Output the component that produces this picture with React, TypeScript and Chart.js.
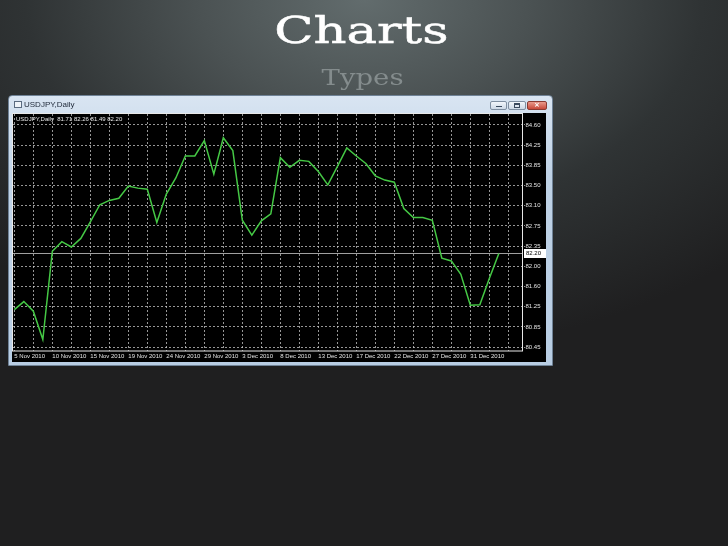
import React, { useEffect, useRef } from 'react';
import { Chart, registerables } from 'chart.js';

Chart.register(...registerables);

const slideTitle = 'Charts';
const slideSubtitle = 'Types';
const symbolName = 'USDJPY,Daily';
const ohlcValues = ['81.71', '82.26', '81.49', '82.20'];

const dateLabels = [
  '5 Nov 2010', '10 Nov 2010', '15 Nov 2010', '19 Nov 2010', '24 Nov 2010',
  '29 Nov 2010', '3 Dec 2010', '8 Dec 2010', '13 Dec 2010', '17 Dec 2010',
  '22 Dec 2010', '27 Dec 2010', '31 Dec 2010',
];

const closes = [
  81.15, 81.30, 81.12, 80.59, 82.24, 82.42, 82.32, 82.48, 82.79, 83.11,
  83.19, 83.23, 83.46, 83.42, 83.40, 82.78, 83.31, 83.61, 84.02, 84.02,
  84.31, 83.68, 84.36, 84.12, 82.82, 82.54, 82.81, 82.94, 83.99, 83.81,
  83.94, 83.92, 83.73, 83.48, 83.82, 84.17, 84.02, 83.88, 83.65, 83.57,
  83.53, 83.04, 82.87, 82.87, 82.82, 82.11, 82.06, 81.81, 81.23, 81.24,
  81.73, 82.20,
];

const yTickLabels = [
  '80.45', '80.85', '81.25', '81.60', '82.00', '82.35',
  '82.75', '83.10', '83.50', '83.85', '84.25', '84.60',
];

const barsPerLabel = 4;
const barsPerGrid = 2;

const chartFont = { family: "'Liberation Sans', Arial, sans-serif", size: 6 };
const labelColor = '#e4e4e4';
const gridColor = 'rgba(200,200,200,0.75)';

export default function App() {
  const canvasRef = useRef<HTMLCanvasElement>(null);

  useEffect(() => {
    const canvas = canvasRef.current;
    if (!canvas) return;
    const currentPrice = closes[closes.length - 1];
    const yLo = parseFloat(yTickLabels[0]);
    const yHi = parseFloat(yTickLabels[yTickLabels.length - 1]);
    const yStep = (yHi - yLo) / (yTickLabels.length - 1);

    const pricePlugin = {
      id: 'priceLine',
      beforeDatasetsDraw(chart: any) {
        const { ctx, chartArea, scales } = chart;
        const y = Math.round(scales.y.getPixelForValue(currentPrice)) + 0.5;
        ctx.save();
        ctx.strokeStyle = '#a0a0a0';
        ctx.lineWidth = 1;
        ctx.beginPath();
        ctx.moveTo(chartArea.left, y);
        ctx.lineTo(chartArea.right, y);
        ctx.stroke();
        ctx.restore();
      },
      afterDraw(chart: any) {
        const { ctx, chartArea, scales } = chart;
        const y = Math.round(scales.y.getPixelForValue(currentPrice)) + 0.5;
        ctx.save();
        ctx.strokeStyle = '#e8e8e8';
        ctx.lineWidth = 1;
        ctx.strokeRect(chartArea.left - 0.5, chartArea.top - 0.5, chartArea.right - chartArea.left + 1, chartArea.bottom - chartArea.top + 1);
        ctx.fillStyle = '#ffffff';
        ctx.fillRect(chartArea.right + 2, y - 4.5, 22, 9);
        ctx.fillStyle = '#000000';
        ctx.font = `${chartFont.size}px ${chartFont.family}`;
        ctx.textBaseline = 'middle';
        ctx.textAlign = 'left';
        ctx.fillText(currentPrice.toFixed(2), chartArea.right + 4, y);
        ctx.restore();
      },
    };

    const chart = new Chart(canvas, {
      type: 'line',
      data: {
        datasets: [
          {
            data: closes.map((y, x) => ({ x, y })),
            borderColor: '#45c845',
            borderWidth: 1.5,
            pointRadius: 0,
            tension: 0,
            fill: false,
          },
        ],
      },
      options: {
        animation: false,
        responsive: false,
        layout: { padding: { left: 1, top: 1, right: 0, bottom: 0 } },
        plugins: { legend: { display: false }, tooltip: { enabled: false } },
        scales: {
          x: {
            type: 'linear',
            min: -0.14,
            max: 53.44,
            afterBuildTicks: (s: any) => {
              const t: { value: number }[] = [];
              for (let v = 0; v <= s.max; v += barsPerGrid) t.push({ value: v });
              s.ticks = t;
            },
            afterFit: (s: any) => {
              s.height = 11.5;
              s.paddingLeft = 0;
              s.paddingRight = 0;
            },
            ticks: {
              autoSkip: false,
              maxRotation: 0,
              minRotation: 0,
              align: 'start',
              padding: 2.5,
              color: labelColor,
              font: chartFont,
              callback: (v: any) =>
                v % barsPerLabel === 0 ? dateLabels[v / barsPerLabel] ?? '' : '',
            },
            grid: { color: gridColor, drawTicks: false, tickLength: 0 },
            border: { display: false, dash: [2, 2] },
          },
          y: {
            type: 'linear',
            position: 'right',
            min: 80.386,
            max: 84.805,
            afterBuildTicks: (s: any) => {
              s.ticks = yTickLabels.map((_, i) => ({ value: yLo + i * yStep }));
            },
            afterFit: (s: any) => {
              s.width = 24;
              s.paddingTop = 0;
              s.paddingBottom = 0;
            },
            ticks: {
              autoSkip: false,
              padding: 0.5,
              color: labelColor,
              font: chartFont,
              callback: (_v: any, i: number) => yTickLabels[i],
            },
            grid: { color: gridColor, drawTicks: true, tickLength: 3, tickColor: gridColor, tickBorderDash: [1, 1] },
            border: { display: false, dash: [2, 2] },
          },
        },
      },
      plugins: [pricePlugin],
    } as any);

    return () => chart.destroy();
  }, []);

  const btnBase: React.CSSProperties = {
    position: 'absolute',
    top: 5,
    height: 9,
    borderRadius: 2,
    boxSizing: 'border-box',
    border: '1px solid #7f8fa2',
    background: 'linear-gradient(#f2f6fb, #cdd9e7)',
  };

  return (
    <div
      style={{
        position: 'fixed',
        left: 0,
        top: 0,
        width: 728,
        height: 546,
        overflow: 'hidden',
        background:
          'radial-gradient(ellipse 75% 65% at 50% 0%, #626c6d 0%, #4b5253 30%, #2f3334 62%, #1f1f20 100%)',
      }}
    >
      <div
        style={{
          position: 'absolute',
          left: 0,
          width: 728,
          top: 11,
          textAlign: 'center',
          fontFamily: "'DejaVu Serif', serif",
          fontSize: 38,
          lineHeight: '38px',
          color: '#ffffff',
          WebkitTextStroke: '0.5px #ffffff',
          transform: 'scaleX(1.35)',
          transformOrigin: '360px 0',
          marginLeft: -4,
        }}
      >
        {slideTitle}
      </div>
      <div
        style={{
          position: 'absolute',
          left: 0,
          width: 728,
          top: 67,
          textAlign: 'center',
          fontFamily: "'DejaVu Serif', serif",
          fontSize: 21.5,
          lineHeight: '21.5px',
          color: '#848c8d',
          transform: 'scaleX(1.28)',
          transformOrigin: '362px 0',
          marginLeft: -2,
        }}
      >
        {slideSubtitle}
      </div>

      <div
        style={{
          position: 'absolute',
          left: 8,
          top: 95,
          width: 545,
          height: 271,
          boxSizing: 'border-box',
          border: '1px solid #6f8296',
          borderRadius: '4px 4px 0 0',
          background: 'linear-gradient(#d9e5f2, #bfd2e6 30%, #b8cde3)',
        }}
      >
        <div
          style={{
            position: 'absolute',
            left: 5,
            top: 5,
            width: 8,
            height: 7,
            boxSizing: 'border-box',
            border: '1px solid #5a6b80',
            background: '#eef3f8',
          }}
        />
        <div
          style={{
            position: 'absolute',
            left: 15,
            top: 3,
            fontFamily: "'Liberation Sans', Arial, sans-serif",
            fontSize: 8,
            lineHeight: '12px',
            color: '#1c2636',
          }}
        >
          {symbolName}
        </div>
        <div style={{ ...btnBase, left: 481, width: 17 }}>
          <div style={{ position: 'absolute', left: 5, top: 4, width: 6, height: 1, background: '#3a4a5e' }} />
        </div>
        <div style={{ ...btnBase, left: 499, width: 18 }}>
          <div
            style={{
              position: 'absolute',
              left: 5,
              top: 1,
              width: 6,
              height: 5,
              boxSizing: 'border-box',
              border: '1px solid #3a4a5e',
              borderTopWidth: 2,
            }}
          />
        </div>
        <div
          style={{
            ...btnBase,
            left: 518,
            width: 20,
            border: '1px solid #8a3a32',
            background: 'linear-gradient(#e99a8d, #c8493a)',
            color: '#ffffff',
            fontFamily: "'DejaVu Sans', sans-serif",
            fontSize: 7,
            lineHeight: '7px',
            fontWeight: 'bold',
            textAlign: 'center',
          }}
        >
          ×
        </div>
      </div>

      <div
        style={{
          position: 'absolute',
          left: 12,
          top: 113,
          width: 534,
          height: 249,
          background: '#000000',
        }}
      >
        <canvas ref={canvasRef} width={534} height={249} style={{ display: 'block', width: 534, height: 249 }} />
        <div
          style={{
            position: 'absolute',
            left: 4,
            top: 2,
            fontFamily: "'Liberation Sans', Arial, sans-serif",
            fontSize: 6,
            lineHeight: '8px',
            color: '#e8e8e8',
            whiteSpace: 'pre',
          }}
        >
          {`${symbolName}  ${ohlcValues.join(' ')}`}
        </div>
      </div>
    </div>
  );
}
